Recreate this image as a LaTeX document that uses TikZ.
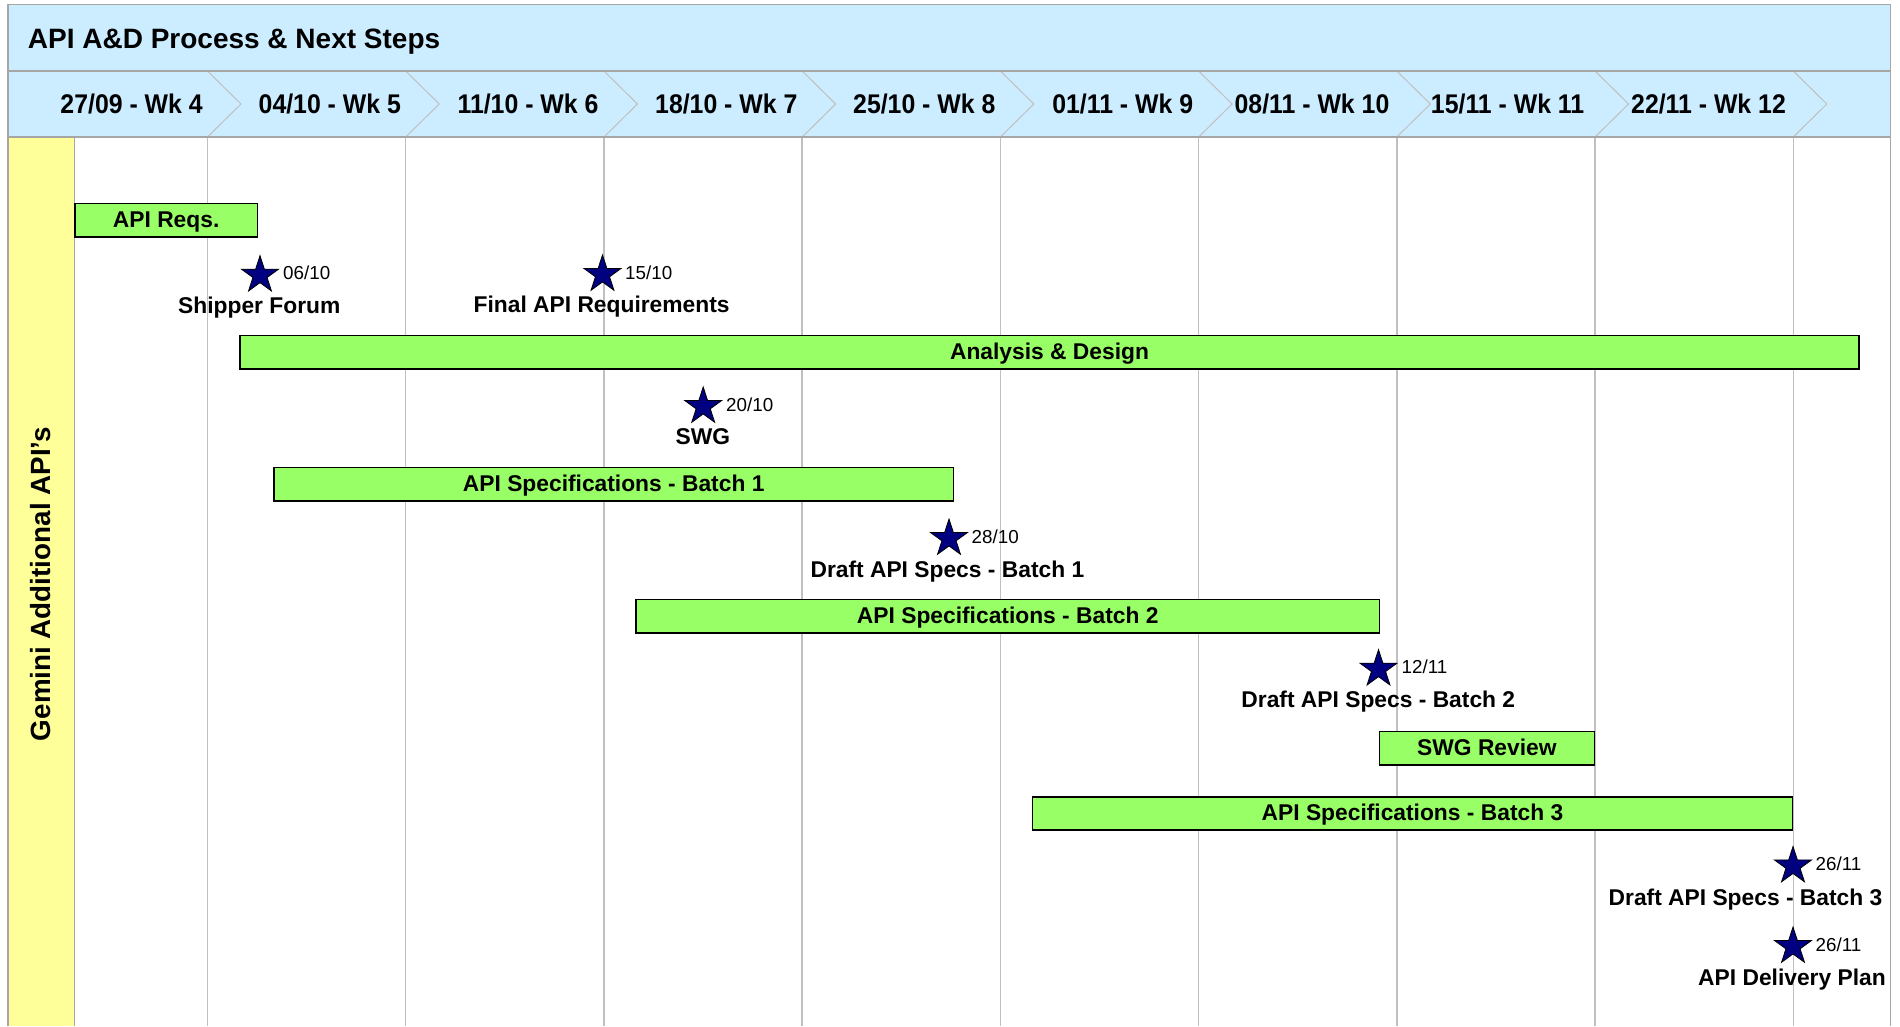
\documentclass[tikz,border=0pt]{standalone}
\usepackage{fontspec}
\setmainfont{Liberation Sans}
\newfontfamily\wkfont[FakeStretch=0.92]{Liberation Sans}
\usetikzlibrary{shapes.geometric}
\definecolor{hdr}{HTML}{CCECFF}
\definecolor{lane}{HTML}{FFFF99}
\definecolor{barfill}{HTML}{99FF66}
\definecolor{starfill}{HTML}{000080}
\definecolor{gridc}{HTML}{C0C0C0}
\definecolor{framec}{HTML}{A6A6A6}
\begin{document}
\begin{tikzpicture}[x=1pt,y=-1pt,
  bar/.style={draw=black, line width=1.6pt, fill=barfill, inner sep=0pt,
    font=\bfseries\fontsize{22.8}{24}\selectfont, text height=14.6pt, text depth=0pt},
  ms/.style={star, star points=5, star point ratio=2.618, minimum size=39pt,
    inner sep=0pt, fill=starfill, draw=black, line width=0.8pt},
  msdate/.style={anchor=base west, inner sep=0pt, font=\fontsize{18.8}{20}\selectfont},
  mslabel/.style={anchor=base, inner sep=0pt, font=\bfseries\fontsize{22.8}{24}\selectfont},
  wk/.style={anchor=base, inner sep=0pt, font=\wkfont\bfseries\fontsize{27}{28}\selectfont},
  gridline/.style={draw=gridc, line width=1.4pt},
  chev/.style={draw=gridc, line width=1pt},
  frame/.style={draw=framec, line width=1.2pt},
]
\useasboundingbox (0,0) rectangle (1900,1026);
% backgrounds
\fill[hdr] (8,4.7) rectangle (1890.5,137);
\fill[lane] (8,137) rectangle (74.7,1026);
% grid
\foreach \i in {0,...,8} {
  \draw[gridline] ({207.5+198.22*\i},137) -- ({207.5+198.22*\i},1026);
  \draw[chev] ({207.5+198.22*\i},71) -- ({241+198.22*\i},104) -- ({207.5+198.22*\i},137);
}
% frame
\draw[frame] (8,1026) -- (8,4.7) -- (1890.5,4.7) -- (1890.5,1026);
\draw[frame] (8,71) -- (1890.5,71);
\draw[frame, line width=1.8pt] (8,137) -- (1890.5,137);
\draw[frame] (74.7,137) -- (74.7,1026);
% title
\node[anchor=base west, inner sep=0pt, font=\bfseries\fontsize{28}{30}\selectfont] (title) at (27.7,48.5) {API A\&D Process \& Next Steps};
% weeks
\node[wk] (w4) at (131.6,113.2) {27/09 - Wk 4};
\node[wk] (w5) at (329.8,113.2) {04/10 - Wk 5};
\node[wk] (w6) at (528,113.2) {11/10 - Wk 6};
\node[wk] (w7) at (726.3,113.2) {18/10 - Wk 7};
\node[wk] (w8) at (924.3,113.2) {25/10 - Wk 8};
\node[wk] (w9) at (1122.7,113.2) {01/11 - Wk 9};
\node[wk] (w10) at (1312,113.2) {08/11 - Wk 10};
\node[wk] (w11) at (1507.6,113.2) {15/11 - Wk 11};
\node[wk] (w12) at (1708.5,113.2) {22/11 - Wk 12};
% lane label
\node[rotate=90, inner sep=0pt, font=\bfseries\fontsize{27.8}{29}\selectfont, text height=19.9pt, text depth=0pt] (lanelbl) at (40.5,584) {Gemini Additional API’s};
% bars
\node[bar, minimum width=182.9pt, minimum height=33.4pt] (reqs) at (166.15,220) {API Reqs.};
\node[bar, minimum width=1619pt, minimum height=33.4pt] (ad) at (1049.5,352) {Analysis \& Design};
\node[bar, minimum width=679.6pt, minimum height=33.4pt] (b1) at (613.7,484) {API Specifications - Batch 1};
\node[bar, minimum width=743.1pt, minimum height=33.4pt] (b2) at (1007.75,616) {API Specifications - Batch 2};
\node[bar, minimum width=215.2pt, minimum height=33.4pt] (swg) at (1486.9,748) {SWG Review};
\node[bar, minimum width=760.1pt, minimum height=33.4pt] (b3) at (1412.45,813.5) {API Specifications - Batch 3};
% milestones
\node[ms] (s1) at (260,275.2) {};
\node[msdate] (d1) at (283,279.8) {06/10};
\node[mslabel] (l1) at (259.3,313.7) {Shipper Forum};
\node[ms] (s2) at (602.5,274.5) {};
\node[msdate] (d2) at (625,279.1) {15/10};
\node[mslabel] (l2) at (601.6,312.5) {Final API Requirements};
\node[ms] (s3) at (703.2,406.5) {};
\node[msdate] (d3) at (726,411.1) {20/10};
\node[mslabel] (l3) at (702.8,444) {SWG};
\node[ms] (s4) at (949,538.5) {};
\node[msdate] (d4) at (971.5,543.1) {28/10};
\node[mslabel] (l4) at (947.4,577) {Draft API Specs - Batch 1};
\node[ms] (s5) at (1378.5,669.2) {};
\node[msdate] (d5) at (1401.5,673.8) {12/11};
\node[mslabel] (l5) at (1378.3,707.5) {Draft API Specs - Batch 2};
\node[ms] (s6) at (1793,866) {};
\node[msdate] (d6) at (1815.5,870.6) {26/11};
\node[mslabel] (l6) at (1745.5,905) {Draft API Specs - Batch 3};
\node[ms] (s7) at (1793,946.5) {};
\node[msdate] (d7) at (1815.5,951.1) {26/11};
\node[mslabel] (l7) at (1792,985.5) {API Delivery Plan};
\end{tikzpicture}
\end{document}
